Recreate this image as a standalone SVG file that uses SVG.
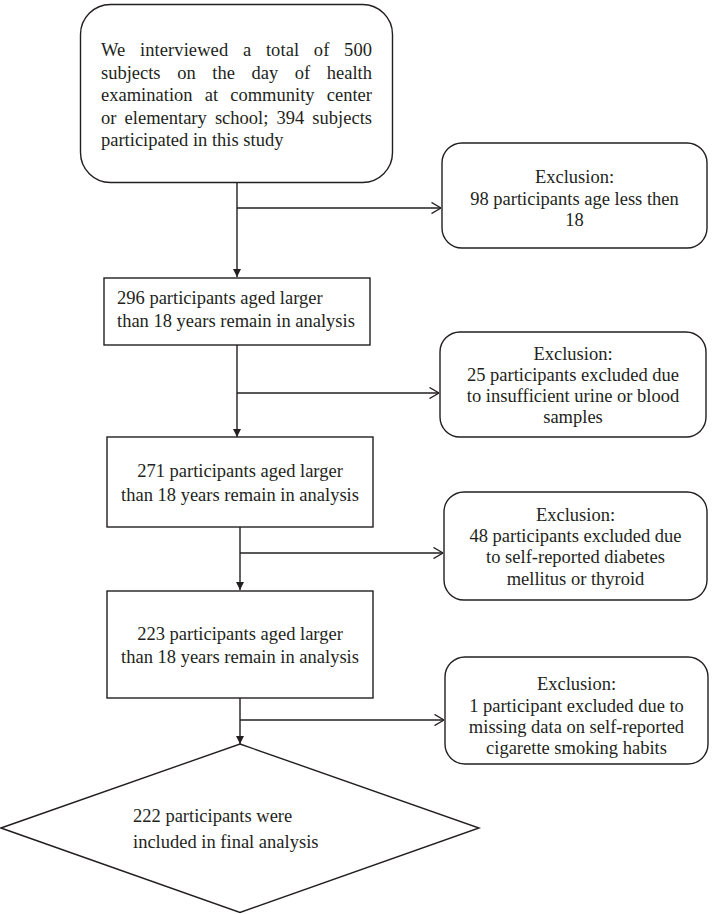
<svg xmlns="http://www.w3.org/2000/svg" width="712" height="914" viewBox="0 0 712 914">
<style>
  .box { fill: #ffffff; stroke: #231f20; stroke-width: 1.4; }
  .t { font-family: "Liberation Serif", "Times New Roman", serif; font-size: 18.5px; fill: #231f20; }
  .c { text-anchor: middle; }
  .ln { fill: none; stroke: #231f20; stroke-width: 1.4; }
</style>
<defs>
  <marker id="down" viewBox="0 0 10 10" refX="10" refY="5" markerUnits="userSpaceOnUse" markerWidth="9" markerHeight="8" orient="auto">
    <path d="M0,0 L10,5 L0,10 z" fill="#231f20"/>
  </marker>
  <marker id="open" viewBox="0 0 10 12" refX="10" refY="6" markerUnits="userSpaceOnUse" markerWidth="10" markerHeight="12" orient="auto">
    <path d="M0.5,0.5 L10,6 L0.5,11.5" fill="none" stroke="#231f20" stroke-width="1.4"/>
  </marker>
</defs>
<rect width="712" height="914" fill="#ffffff"/>

<g id="connectors">
  <line class="ln" x1="237" y1="183" x2="237" y2="277" marker-end="url(#down)"/>
  <line class="ln" x1="237" y1="208" x2="441" y2="208" marker-end="url(#open)"/>
  <line class="ln" x1="237" y1="345" x2="237" y2="437" marker-end="url(#down)"/>
  <line class="ln" x1="237" y1="393" x2="439" y2="393" marker-end="url(#open)"/>
  <line class="ln" x1="240" y1="527" x2="240" y2="590" marker-end="url(#down)"/>
  <line class="ln" x1="240" y1="553" x2="443" y2="553" marker-end="url(#open)"/>
  <line class="ln" x1="240" y1="698" x2="240" y2="744" marker-end="url(#down)"/>
  <line class="ln" x1="240" y1="720" x2="444" y2="720" marker-end="url(#open)"/>
</g>

<g id="start">
  <rect class="box" x="80.5" y="4.5" width="312" height="178" rx="30" ry="30"/>
  <text class="t" x="101" y="56" textLength="271" lengthAdjust="spacing" word-spacing="10">We interviewed a total of 500</text>
  <text class="t" x="101" y="79" textLength="271" lengthAdjust="spacing" word-spacing="12">subjects on the day of health</text>
  <text class="t" x="101" y="101" textLength="271" lengthAdjust="spacing" word-spacing="7.5">examination at community center</text>
  <text class="t" x="101" y="124" textLength="271" lengthAdjust="spacing" word-spacing="3.5">or elementary school; 394 subjects</text>
  <text class="t" x="101" y="146">participated in this study</text>
</g>

<g id="excl1">
  <rect class="box" x="442" y="143" width="265" height="105" rx="20" ry="20"/>
  <text class="t c" x="574.5" y="183">Exclusion:</text>
  <text class="t c" x="574.5" y="205">98 participants age less then</text>
  <text class="t c" x="574.5" y="226">18</text>
</g>

<g id="step296">
  <rect class="box" x="104" y="278" width="266" height="67"/>
  <text class="t" x="117" y="304">296 participants aged larger</text>
  <text class="t" x="117" y="327">than 18 years remain in analysis</text>
</g>

<g id="excl2">
  <rect class="box" x="440" y="332" width="266" height="105" rx="20" ry="20"/>
  <text class="t c" x="573" y="360">Exclusion:</text>
  <text class="t c" x="573" y="381">25 participants excluded due</text>
  <text class="t c" x="573" y="402">to insufficient urine or blood</text>
  <text class="t c" x="573" y="423">samples</text>
</g>

<g id="step271">
  <rect class="box" x="107" y="437" width="266" height="90"/>
  <text class="t c" x="240" y="477">271 participants aged larger</text>
  <text class="t c" x="240" y="501">than 18 years remain in analysis</text>
</g>

<g id="excl3">
  <rect class="box" x="444" y="492" width="263" height="108" rx="20" ry="20"/>
  <text class="t c" x="575.5" y="521">Exclusion:</text>
  <text class="t c" x="575.5" y="542">48 participants excluded due</text>
  <text class="t c" x="575.5" y="563">to self-reported diabetes</text>
  <text class="t c" x="575.5" y="585">mellitus or thyroid</text>
</g>

<g id="step223">
  <rect class="box" x="107" y="591" width="266" height="107"/>
  <text class="t c" x="240" y="640">223 participants aged larger</text>
  <text class="t c" x="240" y="663">than 18 years remain in analysis</text>
</g>

<g id="excl4">
  <rect class="box" x="445" y="657" width="263" height="107" rx="20" ry="20"/>
  <text class="t c" x="576.5" y="690">Exclusion:</text>
  <text class="t c" x="576.5" y="712">1 participant excluded due to</text>
  <text class="t c" x="576.5" y="733">missing data on self-reported</text>
  <text class="t c" x="576.5" y="754">cigarette smoking habits</text>
</g>

<g id="final">
  <polygon class="box" points="240,744 479,828 240,912.5 1,828"/>
  <text class="t" x="133" y="822">222 participants were</text>
  <text class="t" x="133" y="848">included in final analysis</text>
</g>
</svg>
